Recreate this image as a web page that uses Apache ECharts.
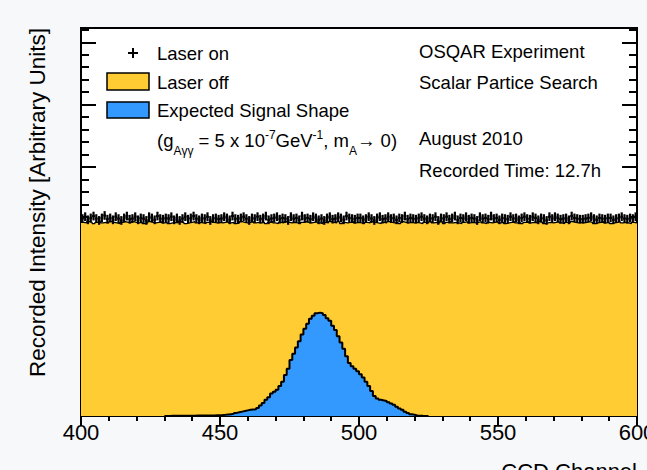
<!DOCTYPE html>
<html>
<head>
<meta charset="utf-8">
<script src="https://cdn.jsdelivr.net/npm/echarts@6/dist/echarts.min.js"></script>
<style>
html, body { margin: 0; padding: 0; background: #f7f8fa; }
#main { width: 647px; height: 470px; }
</style>
</head>
<body>
<div id="main"></div>
<script>
// channel axis
var firstChannel = 400;
var xTicks = [400, 450, 500, 550, 600];

// laser off histogram, one value per channel 400..599
var laserOff = [
311,310,312,311,309,311,312,310,311,310,
312,311,310,309,311,312,311,310,312,311,
310,311,309,310,312,311,310,311,312,310,
311,309,310,311,310,312,311,309,310,311,
312,310,311,310,309,311,312,311,310,311,
310,311,312,310,311,309,310,312,311,310,
311,312,310,311,310,311,309,311,312,310,
309,311,310,312,311,310,311,310,309,311,
312,311,310,311,312,310,309,311,310,312,
311,310,312,309,311,310,311,312,310,311,
310,309,311,310,312,311,310,309,311,310,
312,311,310,311,309,312,311,310,311,310,
311,310,309,311,310,312,310,311,310,312,
309,311,312,310,311,310,309,311,312,310,
311,310,311,312,310,309,311,310,311,312,
310,311,309,310,311,312,310,311,309,311,
312,310,311,310,312,311,309,310,311,310,
311,312,310,309,311,310,312,311,310,311,
310,311,312,311,309,310,311,312,310,311,
309,310,311,312,310,311,310,309,311,310
];

// laser on points, one value per channel 400..599
var laserOn = [
317,320,315,318,321,317,314,318,322,316,
318,315,320,317,314,318,321,316,317,320,
315,318,317,314,320,318,315,321,317,316,
318,317,320,315,318,314,317,320,316,318,
321,317,315,318,317,320,314,317,318,316,
317,320,318,315,321,317,316,318,320,317,
314,318,317,320,316,318,321,315,317,318,
320,316,318,317,314,320,317,318,315,321,
317,318,316,320,318,315,317,314,318,320,
316,317,320,318,315,321,318,317,316,318,
318,315,317,320,317,314,318,320,316,317,
320,317,318,315,318,317,321,316,318,317,
316,318,320,317,315,318,317,320,314,318,
317,320,316,318,321,315,318,317,320,316,
318,317,314,320,317,318,316,321,317,318,
315,318,317,316,320,317,318,315,318,320,
317,316,320,318,315,318,317,314,320,317,
320,318,316,317,318,315,321,318,317,316,
316,317,318,320,317,315,318,317,316,318,
318,315,317,318,320,317,316,318,317,320
];
var laserOnErr = 7;

// expected signal shape, channels 430..524
var signalStart = 430;
var signal = [
0,0.2,0.3,0.3,0.4,0.4,0.5,0.5,0.5,0.6,
0.6,0.7,0.7,0.8,0.8,0.9,1,1,1.2,1.4,
1.6,2,2.5,3,3.5,5,6,7,8,9,
10,10.5,11,13,17,21,26,30,36,39,
42,48,55,66,76,90,100,110,120,131,
140,148,156,161,165,166,165,162,157,153,
145,138,128,118,108,96,85,80,76,72,
67,62,55,48,40,32,28,26,25,24,
22,20,18,15,12,10,7,5,3,2,
1,0.5,0.3,0.2,0
];

var FONT = '"Liberation Sans", Arial, Helvetica, sans-serif';
var YELLOW = '#ffcc33';
var BLUE = '#3399ff';

function histData(values, start) {
    var out = [];
    for (var i = 0; i < values.length; i++) {
        out.push([start + i, values[i]]);
    }
    out.push([start + values.length, values[values.length - 1]]);
    return out;
}

var offData = histData(laserOff, firstChannel);
var sigData = histData(signal, signalStart);
var onData = laserOn.map(function (v, i) { return [firstChannel + i, v]; });

function renderCross(params, api) {
    var x = api.value(0), y = api.value(1);
    var l = api.coord([x, y]);
    var r = api.coord([x + 1, y]);
    var t = api.coord([x + 0.5, y + laserOnErr]);
    var b = api.coord([x + 0.5, y - laserOnErr]);
    var st = { stroke: '#000', lineWidth: 2.2 };
    return {
        type: 'group',
        children: [
            { type: 'line', shape: { x1: l[0], y1: l[1], x2: r[0], y2: r[1] }, style: st },
            { type: 'line', shape: { x1: t[0], y1: t[1], x2: b[0], y2: b[1] }, style: st }
        ]
    };
}

function xAxisOpt(pos, labels) {
    return {
        type: 'value',
        position: pos,
        min: 400, max: 600, interval: 50,
        axisLine: { show: false },
        axisTick: { show: true, inside: true, length: 10, lineStyle: { color: '#000', width: 2 } },
        minorTick: { show: true, splitNumber: 5, length: 5, lineStyle: { color: '#000', width: 2 } },
        splitLine: { show: false },
        axisLabel: {
            show: labels, color: '#000', fontSize: 22, fontFamily: FONT, margin: 5,
            formatter: function (v) { return xTicks.indexOf(v) >= 0 ? String(v) : ''; }
        }
    };
}

function yAxisOpt(pos) {
    return {
        type: 'value',
        position: pos,
        min: 0, max: 623, interval: 100,
        axisLine: { show: false },
        axisTick: { show: true, inside: true, length: 15, lineStyle: { color: '#000', width: 2 } },
        minorTick: { show: true, splitNumber: 5, length: 8, lineStyle: { color: '#000', width: 2 } },
        splitLine: { show: false },
        axisLabel: { show: false }
    };
}

var txt = { fill: '#000', font: '18.5px ' + FONT, textVerticalAlign: 'middle' };
function label(x, y, s) {
    return { type: 'text', x: x, y: y, z: 100, style: Object.assign({ text: s }, txt) };
}

var myChart = echarts.init(document.getElementById('main'), null, { renderer: 'svg' });
var option = {
    backgroundColor: '#f7f8fa',
    animation: false,
    grid: {
        show: true, left: 81, right: 10, top: 28, bottom: 54,
        containLabel: false, outerBoundsMode: 'none',
        backgroundColor: '#fff', borderColor: '#000', borderWidth: 2
    },
    xAxis: [xAxisOpt('bottom', true), xAxisOpt('top', false)],
    yAxis: [yAxisOpt('left'), yAxisOpt('right')],
    series: [
        {
            name: 'Laser off', type: 'line', step: 'end', data: offData,
            showSymbol: false, lineStyle: { color: '#000', width: 1.2 },
            areaStyle: { color: YELLOW, opacity: 1 }, z: 1
        },
        {
            name: 'Expected Signal Shape', type: 'line', step: 'end', data: sigData,
            showSymbol: false, lineStyle: { color: '#000', width: 2 },
            areaStyle: { color: BLUE, opacity: 1 }, z: 2
        },
        {
            name: 'Laser on', type: 'custom', renderItem: renderCross, data: onData,
            encode: { x: 0, y: 1 }, clip: true, z: 3
        }
    ],
    graphic: [
        // legend
        { type: 'line', shape: { x1: 128, y1: 53, x2: 138, y2: 53 }, style: { stroke: '#000', lineWidth: 2 }, z: 100 },
        { type: 'line', shape: { x1: 133, y1: 48, x2: 133, y2: 58 }, style: { stroke: '#000', lineWidth: 2 }, z: 100 },
        label(157, 53, 'Laser on'),
        { type: 'rect', shape: { x: 107, y: 73, width: 42, height: 17 }, style: { fill: YELLOW, stroke: '#000', lineWidth: 1.5 }, z: 100 },
        label(157, 82, 'Laser off'),
        { type: 'rect', shape: { x: 107, y: 102, width: 42, height: 16 }, style: { fill: BLUE, stroke: '#000', lineWidth: 1.5 }, z: 100 },
        label(157, 110, 'Expected Signal Shape'),
        {
            type: 'text', x: 157, y: 140, z: 100,
            style: {
                text: '(g{sub|Aγγ} = 5 x 10{sup|-7}GeV{sup|-1}, m{sub|A}→ 0)',
                fill: '#000', font: '18.5px ' + FONT, textVerticalAlign: 'middle',
                rich: {
                    sub: { fontSize: 12, fontFamily: FONT, padding: [22, 0, 0, 0] },
                    sup: { fontSize: 12, fontFamily: FONT, padding: [0, 0, 10, 0] }
                }
            }
        },
        // run info
        label(419, 51, 'OSQAR Experiment'),
        label(419, 82, 'Scalar Partice Search'),
        label(419, 138, 'August 2010'),
        label(419, 170, 'Recorded Time: 12.7h'),
        // axis titles
        {
            type: 'text', x: 37, y: 28, rotation: Math.PI / 2, z: 100,
            style: { text: 'Recorded Intensity [Arbitrary Units]', fill: '#000', font: '22.5px ' + FONT, textAlign: 'right', textVerticalAlign: 'middle' }
        },
        {
            type: 'text', x: 637, y: 460, z: 100,
            style: { text: 'CCD Channel', fill: '#000', font: '22px ' + FONT, textAlign: 'right', textVerticalAlign: 'top' }
        }
    ]
};
if (option && typeof option === "object") {
    myChart.setOption(option, true);
}
window.onresize = function () {
    myChart.resize();
};
</script>
</body>
</html>
